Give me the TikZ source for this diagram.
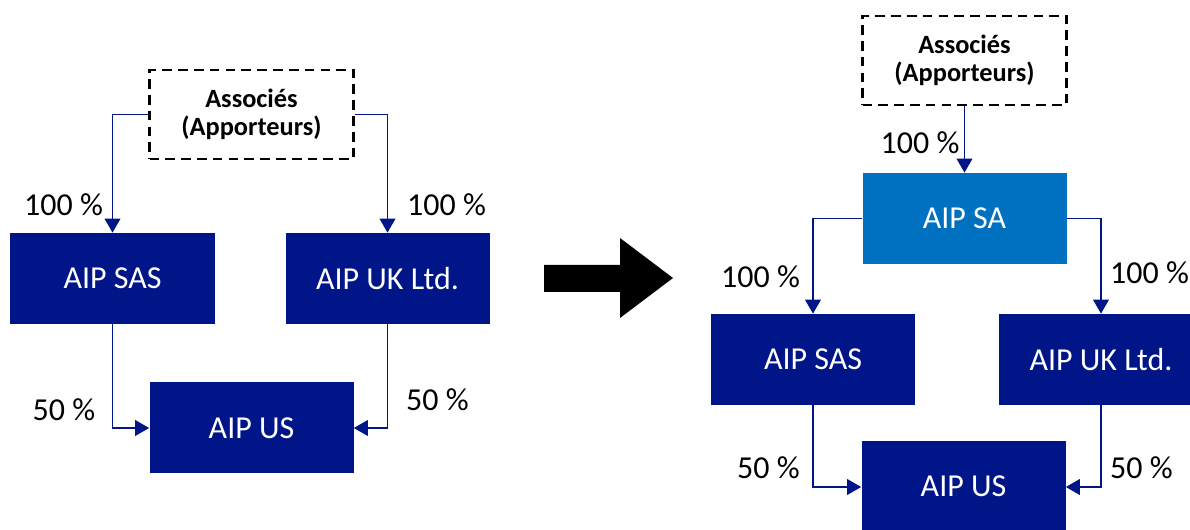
\documentclass[tikz,border=0pt]{standalone}
\usepackage{fontspec}
\setmainfont{Carlito}
\usepackage{tikz}
\usetikzlibrary{arrows.meta, positioning}

\definecolor{aipdark}{RGB}{0,22,136}
\definecolor{aiplight}{RGB}{0,112,192}

\begin{document}
\begin{tikzpicture}[
    company/.style={fill=aipdark, text=white, minimum width=4.08cm, minimum height=1.82cm,
                    inner sep=0pt, font=\fontsize{18.2}{22}\selectfont},
    holding/.style={company, fill=aiplight},
    partners/.style={draw=black, line width=1.4pt, dash pattern=on 5.5pt off 3.5pt,
                     minimum width=4.08cm, minimum height=1.78cm, align=center,
                     font=\fontsize{15}{16}\selectfont\bfseries},
    share/.style={inner sep=0pt, font=\fontsize{18.2}{22}\selectfont},
    link/.style={draw=aipdark, line width=0.75pt, -{Triangle[length=8pt, width=9pt]}}
]
    \useasboundingbox (0, 0) rectangle (23.8, -10.6);

    % before
    \node[partners] (ass1) at (5.03, -2.29) {Associés \\ (Apporteurs)};
    \node[company] (sas1) at (2.25, -5.57) {AIP SAS};
    \node[company] (uk1) at (7.75, -5.57) {AIP UK Ltd.};
    \node[company] (us1) at (5.03, -8.56) {AIP US};

    \node[share] (p1) at (1.27, -4.10) {100 \%};
    \node[share] (p2) at (8.93, -4.10) {100 \%};
    \node[share] (p3) at (1.28, -8.20) {50 \%};
    \node[share] (p4) at (8.75, -8.00) {50 \%};

    % big arrow
    \fill[black] (10.88, -5.30) -- (12.40, -5.30) -- (12.40, -4.76) -- (13.46, -5.56)
        -- (12.40, -6.36) -- (12.40, -5.84) -- (10.88, -5.84) -- cycle;

    % after
    \node[partners] (ass2) at (19.29, -1.21) {Associés \\ (Apporteurs)};
    \node[holding] (sa) at (19.29, -4.37) {AIP SA};
    \node[company] (sas2) at (16.26, -7.19) {AIP SAS};
    \node[company] (uk2) at (22.02, -7.19) {AIP UK Ltd.};
    \node[company] (us2) at (19.27, -9.73) {AIP US};

    \node[share] (p5) at (18.40, -2.86) {100 \%};
    \node[share] (p6) at (15.21, -5.54) {100 \%};
    \node[share] (p7) at (22.99, -5.46) {100 \%};
    \node[share] (p8) at (15.37, -9.36) {50 \%};
    \node[share] (p9) at (22.83, -9.36) {50 \%};

    \draw[link] (ass1.west) -| (sas1.north);
    \draw[link] (ass1.east) -| (uk1.north);
    \draw[link] (sas1.south) |- (us1.west);
    \draw[link] (uk1.south) |- (us1.east);

    \draw[link] (ass2.south) -- (sa.north);
    \draw[link] (sa.west) -| (sas2.north);
    \draw[link] (sa.east) -| (uk2.north);
    \draw[link] (sas2.south) |- ([yshift=-0.01cm]us2.west);
    \draw[link] (uk2.south) |- ([yshift=-0.01cm]us2.east);
\end{tikzpicture}
\end{document}
